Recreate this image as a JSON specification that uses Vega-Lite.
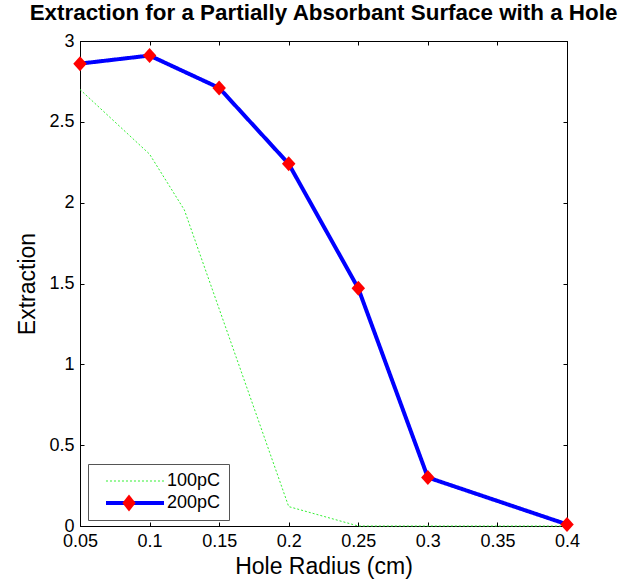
{
  "$schema": "https://vega.github.io/schema/vega-lite/v6.json",
  "width": 487,
  "height": 485,
  "autosize": {"type": "none"},
  "padding": {"left": 80, "top": 41, "right": 70, "bottom": 56},
  "background": "white",
  "title": {
    "text": "Extraction for a Partially Absorbant Surface with a Hole",
    "font": "Liberation Sans",
    "fontSize": 22.4,
    "fontWeight": "bold",
    "color": "black",
    "anchor": "middle",
    "offset": 8
  },
  "config": {
    "view": {"stroke": "black", "strokeWidth": 1},
    "axis": {
      "labelFont": "Liberation Sans",
      "titleFont": "Liberation Sans",
      "labelFontSize": 18,
      "titleFontSize": 23,
      "titleFontWeight": "normal",
      "labelColor": "black",
      "titleColor": "black",
      "domainColor": "black",
      "tickColor": "black",
      "grid": false,
      "tickSize": -4,
      "labelPadding": 10
    }
  },
  "datasets": {
    "curves": [
      {"r": 0.05, "v": 2.70, "s": "100pC"},
      {"r": 0.1, "v": 2.30, "s": "100pC"},
      {"r": 0.125, "v": 1.955, "s": "100pC"},
      {"r": 0.2, "v": 0.12, "s": "100pC"},
      {"r": 0.25, "v": 0.0, "s": "100pC"},
      {"r": 0.3, "v": 0.0, "s": "100pC"},
      {"r": 0.4, "v": 0.0, "s": "100pC"},
      {"r": 0.05, "v": 2.86, "s": "200pC"},
      {"r": 0.1, "v": 2.91, "s": "200pC"},
      {"r": 0.15, "v": 2.71, "s": "200pC"},
      {"r": 0.2, "v": 2.24, "s": "200pC"},
      {"r": 0.25, "v": 1.47, "s": "200pC"},
      {"r": 0.3, "v": 0.30, "s": "200pC"},
      {"r": 0.4, "v": 0.01, "s": "200pC"}
    ]
  },
  "data": {"name": "curves"},
  "layer": [
    {
      "mark": {"type": "line", "strokeJoin": "round", "strokeCap": "butt"},
      "encoding": {
        "x": {
          "field": "r", "type": "quantitative",
          "scale": {"domain": [0.05, 0.4], "nice": false, "zero": false},
          "axis": {"values": [0.05, 0.1, 0.15, 0.2, 0.25, 0.3, 0.35, 0.4], "format": "~g", "title": "Hole Radius (cm)", "titlePadding": 5, "labelFlush": false}
        },
        "y": {
          "field": "v", "type": "quantitative",
          "scale": {"domain": [0, 3], "nice": false},
          "axis": {"values": [0, 0.5, 1, 1.5, 2, 2.5, 3], "format": "~g", "title": "Extraction", "titlePadding": 9, "labelFlush": false}
        },
        "order": {"field": "r", "type": "quantitative"},
        "stroke": {
          "field": "s", "type": "nominal",
          "scale": {"domain": ["100pC", "200pC"], "range": ["#33f033", "#0000ff"]},
          "legend": {"title": null, "orient": "none", "legendX": 8, "legendY": 423, "symbolType": "M-9.67,0H9.67", "symbolSize": 36, "labelFont": "Liberation Sans", "labelFontSize": 18, "labelColor": "black", "labelOffset": 23, "padding": 8, "rowPadding": 4, "strokeColor": "#555555", "symbolOffset": 30}
        },
        "strokeDash": {
          "field": "s", "type": "nominal",
          "scale": {"domain": ["100pC", "200pC"], "range": [[2, 2], [1, 0]]},
          "legend": {"title": null, "orient": "none", "legendX": 8, "legendY": 423, "symbolType": "M-9.67,0H9.67", "symbolSize": 36, "labelFont": "Liberation Sans", "labelFontSize": 18, "labelColor": "black", "labelOffset": 23, "padding": 8, "rowPadding": 4, "strokeColor": "#555555", "symbolOffset": 30}
        },
        "strokeWidth": {
          "field": "s", "type": "nominal",
          "scale": {"domain": ["100pC", "200pC"], "range": [1, 4]},
          "legend": {"title": null, "orient": "none", "legendX": 8, "legendY": 423, "symbolType": "M-9.67,0H9.67", "symbolSize": 36, "labelFont": "Liberation Sans", "labelFontSize": 18, "labelColor": "black", "labelOffset": 23, "padding": 8, "rowPadding": 4, "strokeColor": "#555555", "symbolOffset": 30}
        }
      }
    },
    {
      "transform": [{"filter": "datum.s === '200pC'"}],
      "mark": {"type": "point", "filled": true, "opacity": 1, "shape": "M0,-1L0.9,0L0,1L-0.9,0Z", "size": 225},
      "encoding": {
        "x": {
          "field": "r", "type": "quantitative",
          "axis": {"orient": "top", "values": [0.05, 0.1, 0.15, 0.2, 0.25, 0.3, 0.35, 0.4], "labels": false, "title": null}
        },
        "y": {
          "field": "v", "type": "quantitative",
          "axis": {"orient": "right", "values": [0, 0.5, 1, 1.5, 2, 2.5, 3], "labels": false, "title": null}
        },
        "fill": {
          "field": "s", "type": "nominal",
          "scale": {"domain": ["200pC"], "range": ["#ff0000"]},
          "legend": {"title": null, "orient": "none", "legendX": 40.5, "legendY": 453.5, "symbolType": "M0,-1L0.78,0L0,1L-0.78,0Z", "symbolSize": 289, "labelOpacity": 0, "labelFontSize": 1, "padding": 0, "symbolStrokeWidth": 0, "symbolOpacity": 1}
        }
      }
    }
  ],
  "resolve": {"axis": {"x": "independent", "y": "independent"}}
}
